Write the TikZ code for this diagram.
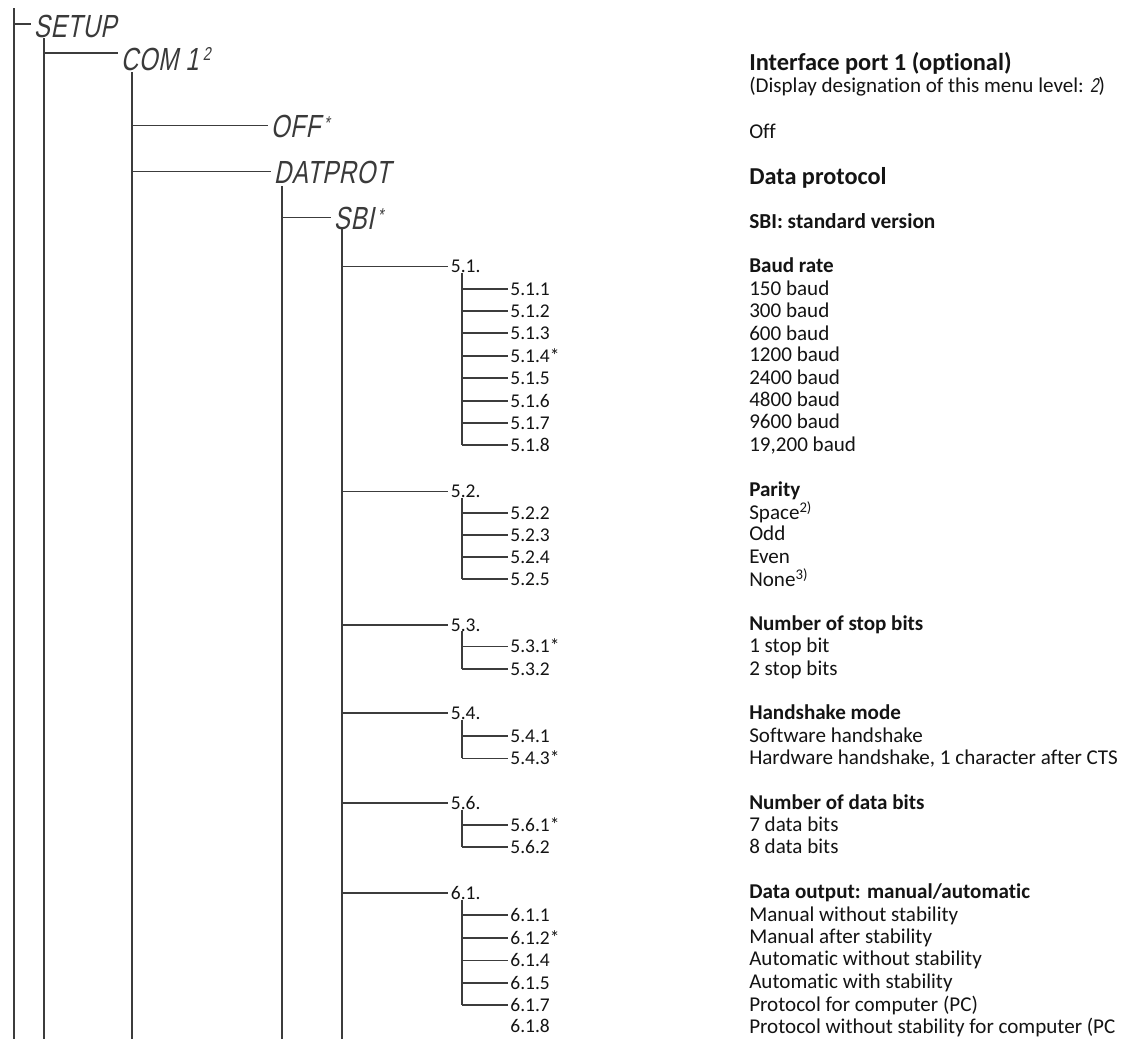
\documentclass[tikz,border=0pt]{standalone}
\usepackage{fontspec}
\setmainfont{Carlito}[Ligatures=NoCommon]
\newfontfamily\dispfont{Liberation Sans}[FakeSlant=0.2,FakeStretch=0.75,LetterSpace=2]
\definecolor{linecol}{HTML}{3C3C3C}
\definecolor{txt}{HTML}{141414}
\definecolor{dispcol}{HTML}{3A3A3A}
\newcommand{\bodyf}{\fontsize{15.8}{18}\selectfont}
\newcommand{\treef}{\fontsize{14.6}{17}\selectfont}
\newcommand{\dstar}{\hspace{3pt}\raisebox{6pt}{\fontsize{14}{14}\selectfont *}}
\tikzset{
  conn/.style={draw=linecol, line width=1.1pt},
  tl/.style={anchor=base west, inner xsep=2pt, inner ysep=0pt, text height=9.2pt, text depth=0pt, font=\treef, text=txt},
  dl/.style={anchor=base west, inner xsep=2pt, inner ysep=0pt, text height=17pt, text depth=0pt, font=\dispfont\fontsize{24}{26}\selectfont, text=dispcol},
  rt/.style={anchor=base west, inner sep=0pt, font=\bodyf, text=txt},
  rh/.style={anchor=base west, inner sep=0pt, font=\bfseries\bodyf, text=txt},
}
\begin{document}
\begin{tikzpicture}[x=0.75pt,y=-0.75pt]
\useasboundingbox[fill=white] (0,0) rectangle (1126,1039);
% display-level labels
\node[dl] (setup) at (31,37) {SETUP};
\node[dl] (com) at (118,70) {COM 1\hspace{3pt}\raisebox{7pt}{\fontsize{14}{14}\selectfont 2}};
\node[dl] (off) at (268,137) {OFF\dstar};
\node[dl] (datprot) at (271,183) {DATPROT};
\node[dl] (sbi) at (331,229) {SBI\dstar};
% trunks
\coordinate (top0) at (14,8);
\coordinate (bot0) at (14,1039);
\coordinate (t1) at (44,38);
\coordinate (bot1) at (44,1039);
\coordinate (t2) at (132,72);
\coordinate (bot2) at (132,1039);
\coordinate (t3) at (282,186);
\coordinate (bot3) at (282,1039);
\coordinate (t4) at (342,229);
\coordinate (bot4) at (342,1039);
\coordinate (setupL) at ([yshift=1.2pt]setup.west);
\coordinate (comL) at ([yshift=4.3pt]com.west);
\draw[conn] (top0) -- (bot0);
\draw[conn] (t1) -- (bot1);
\draw[conn] (t2) -- (bot2);
\draw[conn] (t3) -- (bot3);
\draw[conn] (t4) -- (bot4);
\draw[conn] (top0 |- setupL) -- (setupL);
\draw[conn] (t1 |- comL) -- (comL);
\draw[conn] (t2 |- off.west) -- (off.west);
\draw[conn] (t2 |- datprot.west) -- (datprot.west);
\draw[conn] (t3 |- sbi.west) -- (sbi.west);
% level 5 labels
\node[tl] (g51) at (448,272.7) {5.1.};
\node[tl] (g52) at (448,497.7) {5.2.};
\node[tl] (g53) at (448,631) {5.3.};
\node[tl] (g54) at (448,719.3) {5.4.};
\node[tl] (g56) at (448,809.3) {5.6.};
\node[tl] (g61) at (448,899.3) {6.1.};
\foreach \g in {g51,g52,g53,g54,g56,g61}{\draw[conn] (t4 |- \g.west) -- (\g.west);}
% children
\coordinate (cx) at (462,0);
\foreach \n/\y/\t in {a1/289/5.1.1, a2/311/5.1.2, a3/333/5.1.3, a4/356/5.1.4*, a5/378/5.1.5, a6/401/5.1.6, a7/423/5.1.7, a8/445/5.1.8,
  b2/513.3/5.2.2, b3/535/5.2.3, b4/557.3/5.2.4, b5/579.3/5.2.5,
  c1/646.7/5.3.1*, c2/669.3/5.3.2,
  d1/736/5.4.1, d3/758.5/5.4.3*,
  e1/825/5.6.1*, e2/847.3/5.6.2,
  f1/915/6.1.1, f2/938/6.1.2*, f4/960.7/6.1.4, f5/983.3/6.1.5, f7/1005/6.1.7, f8/1026.7/6.1.8}{
  \node[tl] (\n) at (507.5,\y+6) {\t};
}
\foreach \p/\last/\list in {g51/a8/{a1,a2,a3,a4,a5,a6,a7,a8}, g52/b5/{b2,b3,b4,b5}, g53/c2/{c1,c2}, g54/d3/{d1,d3}, g56/e2/{e1,e2}, g61/f7/{f1,f2,f4,f5,f7}}{
  \draw[conn] (cx |- \p.south) -- (cx |- \last.west);
  \foreach \c in \list {\draw[conn] (cx |- \c.west) -- (\c.west);}
}
% right column
\node[rh, font=\bfseries\fontsize{18.3}{20}\selectfont] (r1) at (749,70) {Interface port 1 (optional)};
\node[rt] (r2) at (749,92.7) {(Display designation of this menu level: {\dispfont\fontsize{15}{15}\selectfont 2})};
\node[rt] (r3) at (749,138.3) {Off};
\node[rh, font=\bfseries\fontsize{18.2}{20}\selectfont] (r4) at (749,184) {Data protocol};
\node[rh, font=\bfseries\fontsize{16}{18}\selectfont] (r5) at (749,228.3) {SBI: standard version};
\node[rh] (r6) at (749,272.7) {Baud rate};
\node[rt] at (749,295) {150 baud};
\node[rt] at (749,317.3) {300 baud};
\node[rt] at (749,340) {600 baud};
\node[rt] at (749,361.7) {1200 baud};
\node[rt] at (749,384.3) {2400 baud};
\node[rt] at (749,406.7) {4800 baud};
\node[rt] at (749,428.3) {9600 baud};
\node[rt] at (749,451.7) {19,200 baud};
\node[rh] at (749,496.7) {Parity};
\node[rt] at (749,519.3) {Space\textsuperscript{2)}};
\node[rt] at (749,540.7) {Odd};
\node[rt] at (749,563.3) {Even};
\node[rt] at (749,586) {None\textsuperscript{3)}};
\node[rh] at (749,630) {Number of stop bits};
\node[rt] at (749,652.7) {1 stop bit};
\node[rt] at (749,675) {2 stop bits};
\node[rh] at (749,719) {Handshake mode};
\node[rt] at (749,742) {Software handshake};
\node[rt] at (749,764.5) {Hardware handshake, 1 character after CTS};
\node[rh] at (749,809) {Number of data bits};
\node[rt] at (749,831) {7 data bits};
\node[rt] at (749,853.3) {8 data bits};
\node[rh] at (749,898.3) {Data output: manual/automatic};
\node[rt] at (749,921.7) {Manual without stability};
\node[rt] at (749,943.3) {Manual after stability};
\node[rt] at (749,965) {Automatic without stability};
\node[rt] at (749,988.3) {Automatic with stability};
\node[rt] at (749,1011.7) {Protocol for computer (PC)};
\node[rt] at (749,1033.3) {Protocol without stability for computer (PC};
\end{tikzpicture}
\end{document}
